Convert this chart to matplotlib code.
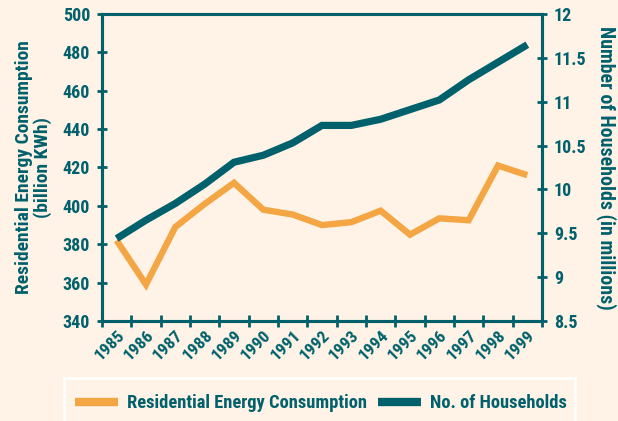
import matplotlib
matplotlib.use("Agg")
import matplotlib.pyplot as plt
from matplotlib.lines import Line2D
from matplotlib.patches import Rectangle
from matplotlib import font_manager as fm
import numpy as np

years = [str(y) for y in range(1985, 2000)]
energy = [382, 359, 389, 401, 412, 398, 395.5, 390, 391.5, 397.5, 385, 393.5, 392.5, 421, 416]
households = [9.44, 9.65, 9.84, 10.06, 10.31, 10.39, 10.53, 10.73, 10.73, 10.80, 10.91, 11.02, 11.25, 11.45, 11.65]

left_ticks = [340, 360, 380, 400, 420, 440, 460, 480, 500]
right_ticks = [8.5, 9, 9.5, 10, 10.5, 11, 11.5, 12]
right_labels = ["8.5", "9", "9.5", "10", "10.5", "11", "11.5", "12"]

BG = "#FEF3E6"
TEAL = "#00606B"
ORANGE = "#F3A643"
W = 'heavy'

installed = set(f.name for f in fm.fontManager.ttflist)
cands = ['Roboto Condensed', 'Archivo Narrow', 'Barlow Condensed', 'DejaVu Sans']
fams = [c for c in cands if c in installed] or ['DejaVu Sans']
plt.rcParams['font.family'] = fams
plt.rcParams['font.weight'] = W

fig = plt.figure(figsize=(6.18, 4.21), dpi=100, facecolor=BG)
ax = fig.add_axes([102/618, 1-321/421, 440/618, 307/421])
ax.set_facecolor(BG)
ax2 = ax.twinx()

x = np.arange(len(years))
ax.plot(x, energy, color=ORANGE, lw=4.6, solid_capstyle='butt', solid_joinstyle='miter', zorder=3)
ax2.plot(x, households, color=TEAL, lw=5.2, solid_capstyle='butt', solid_joinstyle='miter', zorder=3)

ax.set_xlim(-0.5, len(years) - 0.5)
ax.set_ylim(340, 500)
ax2.set_ylim(8.5, 12)

ax.set_xticks(x)
ax.set_xticklabels(years, rotation=45, ha='right', va='top', rotation_mode='anchor')
ax.set_xticks(np.arange(-0.5, len(years)), minor=True)
ax.tick_params(axis='x', which='major', length=0, pad=5, labelsize=12.5, labelcolor=TEAL)
ax.tick_params(axis='x', which='minor', length=9, width=2, direction='inout', color=TEAL)

ax.set_yticks(left_ticks)
ax.tick_params(axis='y', length=7, width=2, direction='inout', color=TEAL, labelsize=13, labelcolor=TEAL, pad=5)
ax2.set_yticks(right_ticks)
ax2.set_yticklabels(right_labels)
ax2.tick_params(axis='y', length=7, width=2, direction='inout', color=TEAL, labelsize=13, labelcolor=TEAL, pad=5)

for a in (ax, ax2):
    for s in a.spines.values():
        s.set_color(TEAL)
        s.set_linewidth(2.2)

for lbl in ax.get_xticklabels() + ax.get_yticklabels() + ax2.get_yticklabels():
    lbl.set_fontweight(W)

ax.set_ylabel("Residential Energy Consumption\n(billion KWh)", color=TEAL, fontsize=14,
              fontweight=W, linespacing=1.0, labelpad=8)
ax2.set_ylabel("Number of Households (in millions)", color=TEAL, fontsize=14.3,
               fontweight=W, rotation=270, labelpad=22)

# legend box
fig.patches.append(Rectangle((64/618, -0.05), (575-64)/618, 0.05 + (1-378/421),
                             transform=fig.transFigure, facecolor='none',
                             edgecolor='white', lw=1.8))
handles = [Line2D([], [], color=ORANGE, lw=6, solid_capstyle='butt'),
           Line2D([], [], color=TEAL, lw=6, solid_capstyle='butt')]
leg = fig.legend(handles, ["Residential Energy Consumption", "No. of Households"],
                 loc='center', bbox_to_anchor=(321/618, 1-403/421), ncol=2, frameon=False,
                 fontsize=13.3, handlelength=2.3, handletextpad=0.5, columnspacing=0.6)
for t in leg.get_texts():
    t.set_color(TEAL)
    t.set_fontweight(W)

fig.savefig("out.png", dpi=100, facecolor=BG)
